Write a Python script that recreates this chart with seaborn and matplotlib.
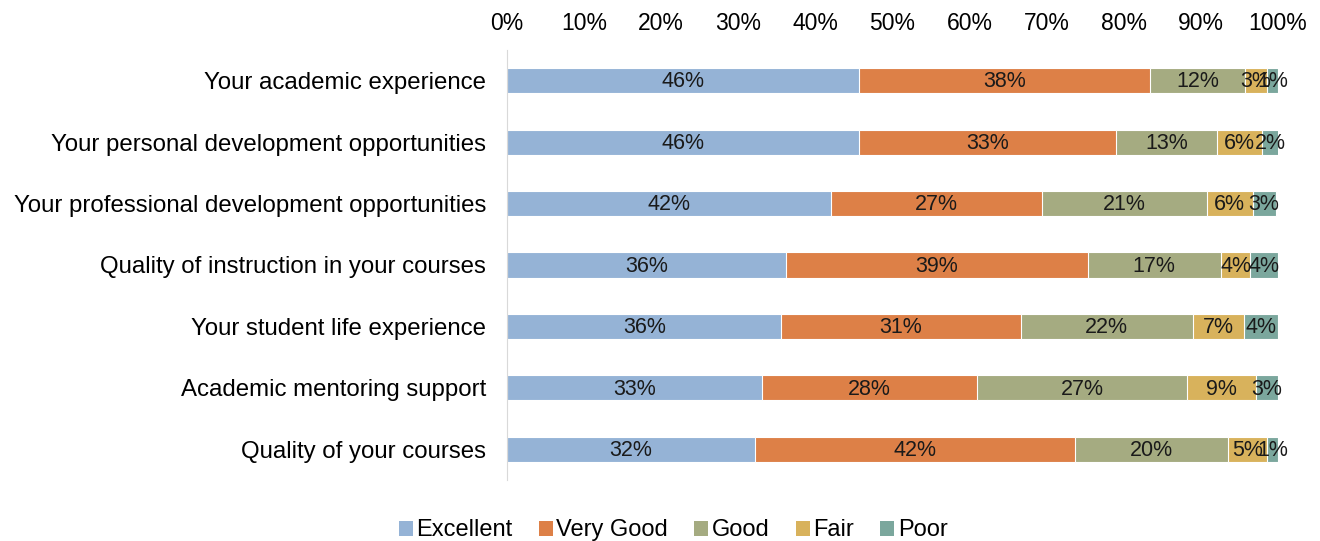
import pandas as pd
import seaborn as sns
import matplotlib.pyplot as plt
from matplotlib.patches import Patch

# 題目 (由上到下)
items = [
    'Your academic experience',
    'Your personal development opportunities',
    'Your professional development opportunities',
    'Quality of instruction in your courses',
    'Your student life experience',
    'Academic mentoring support',
    'Quality of your courses',
]
ratings = ['Excellent', 'Very Good', 'Good', 'Fair', 'Poor']

# 各評分比例 (%)
excellent = [45.6, 45.6, 42.0, 36.2, 35.6, 33.1, 32.1]
very_good = [37.8, 33.4, 27.4, 39.1, 31.0, 27.9, 41.6]
good = [12.3, 13.1, 21.4, 17.3, 22.4, 27.2, 19.8]
fair = [2.9, 5.8, 5.9, 3.8, 6.6, 8.9, 5.1]
poor = [1.4, 2.2, 3.0, 3.6, 4.4, 2.9, 1.4]

colors = ['#95B3D6', '#DD8047', '#A5AB81', '#D8B25C', '#7BA79D']

plt.rcParams['font.family'] = ['Liberation Sans', 'DejaVu Sans']

df = pd.DataFrame({'Item': items, 'Excellent': excellent, 'Very Good': very_good,
                   'Good': good, 'Fair': fair, 'Poor': poor})
cum = df[ratings].cumsum(axis=1) / 100
df_cum = pd.concat([df[['Item']], cum], axis=1)

fig = plt.figure(figsize=(13.2, 5.41), dpi=100)
ax = fig.add_axes([0.3841, 0.1128, 0.5841, 0.7948])

# 疊加長條：由累積最長的開始畫
for r, c in reversed(list(zip(ratings, colors))):
    sns.barplot(data=df_cum, x=r, y='Item', color=c, orient='h', width=0.41,
                saturation=1, edgecolor='white', linewidth=0.8, ax=ax)

# 標註數值
for i, row in df.iterrows():
    left = 0
    for r in ratings:
        v = row[r] / 100
        ax.text(left + v / 2, i + 0.02, f"{row[r]:.0f}%", ha='center', va='center',
                fontsize=15.5, color='#1a1a1a')
        left += v

ax.set_xlim(0, 1)
ax.set_ylim(6.5, -0.5)
ax.xaxis.tick_top()
ax.set_xticks([i / 10 for i in range(11)])
ax.set_xticklabels([f"{i * 10}%" for i in range(11)])
ax.tick_params(axis='x', length=0, pad=10.5, labelsize=16.5)
ax.tick_params(axis='y', length=0, pad=15, labelsize=17.3)
ax.set_xlabel('')
ax.set_ylabel('')
for s in ['top', 'right', 'bottom']:
    ax.spines[s].set_visible(False)
ax.spines['left'].set_color('#d9d9d9')
ax.grid(False)

handles = [Patch(facecolor=c, edgecolor='none') for c in colors]
fig.legend(handles, ratings, loc='lower center', bbox_to_anchor=(0.51, -0.04),
           ncol=5, frameon=False, fontsize=17, handlelength=0.6, handleheight=0.6,
           handletextpad=0.15, columnspacing=1.1)

plt.savefig('out.png', dpi=100)
plt.close()
